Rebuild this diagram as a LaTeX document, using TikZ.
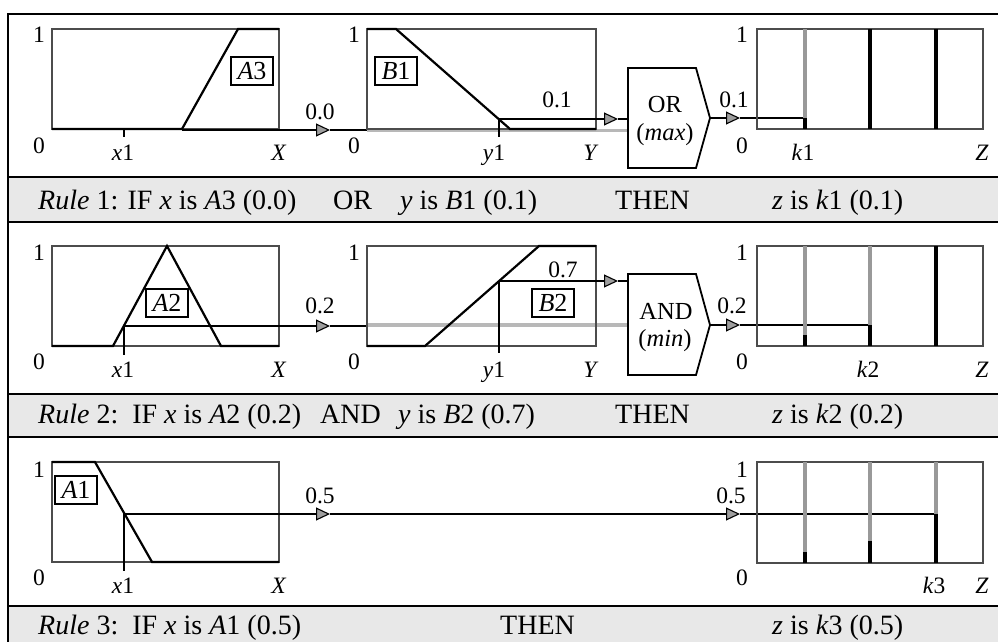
\documentclass[tikz,border=0pt]{standalone}
\usepackage{fontspec}
\setmainfont{Liberation Serif}
\usetikzlibrary{arrows.meta}
\begin{document}
\begin{tikzpicture}[x=1pt,y=-1pt,
  frame/.style={line width=1.6pt},
  bandfill/.style={fill=black!9},
  plotbox/.style={draw=black!70, line width=1.3pt},
  mf/.style={line width=2.2pt, line join=miter},
  sig/.style={line width=1.1pt},
  sigarrow/.style={-{Triangle[length=14pt,width=13pt,fill=black!38]}},
  graysig/.style={draw=black!28, line width=3.6pt},
  graybar/.style={draw=black!40, line width=4.5pt},
  blackbar/.style={draw=black, line width=4.5pt},
  gate/.style={line width=1.8pt, line join=miter},
  lab/.style={font=\fontsize{23.5}{25}\selectfont, anchor=base, inner sep=0pt},
  gatetext/.style={font=\fontsize{24.5}{26}\selectfont, inner sep=0pt},
  mfbox/.style={draw, line width=1.2pt, font=\fontsize{26}{27}\selectfont, minimum width=42pt, minimum height=28pt, inner sep=0pt},
  bandtext/.style={font=\fontsize{28}{30}\selectfont, anchor=base west, inner sep=0pt}
]
\useasboundingbox (0,0) rectangle (998,642);

% ---------- frame and bands ----------
\fill[bandfill] (8,177) rectangle (1010,222);
\fill[bandfill] (8,394) rectangle (1010,437);
\fill[bandfill] (8,606) rectangle (1010,650);
\draw[frame] (1010,14) -- (8,14) -- (8,650);
\foreach \yy in {177,222,394,437,606} \draw[frame] (8,\yy) -- (1010,\yy);

% ================= ROW 1 =================
% plot A
\draw[plotbox] (52,29) rectangle (279,129);
\draw[mf] (52,129) -- (182,129) -- (238,29) -- (279,29);
\node[mfbox] (A3) at (252,71) {\textit{A}3};
\coordinate (r1x1) at (124,129);
\coordinate (r1x1b) at (124,137);
\draw[sig] (r1x1) -- (r1x1b);
\node[lab] (r1a1) at (39,43) {1};
\node[lab] (r1a0) at (39,153) {0};
\node[lab] (r1ax) at (123,160) {\textit{x}1};
\node[lab] (r1aX) at (279,160) {\textit{X}};
% signal A -> gate
\coordinate (r1s0) at (182,130);
\coordinate (r1t0) at (330,130);
\coordinate (r1s1) at (367,130);
\draw[sig,sigarrow] (r1s0) -- (r1t0);
\draw[sig] (r1t0) -- (r1s1);
\node[lab] (r1v0) at (320,119) {0.0};
\coordinate (r1g0) at (367,130.5);
\coordinate (r1g1) at (628,130.5);
\draw[graysig] (r1g0) -- (r1g1);
% plot B
\draw[plotbox] (367,29) rectangle (596,129);
\draw[mf] (367,29) -- (396,29) -- (510,129) -- (596,129);
\node[mfbox] (B1) at (396,71) {\textit{B}1};
\coordinate (r1y1) at (499,119);
\coordinate (r1y1b) at (499,137);
\draw[sig] (r1y1) -- (r1y1b);
\coordinate (r1t1) at (618,119);
\coordinate (r1in) at (628,119);
\draw[sig,sigarrow] (r1y1) -- (r1t1);
\draw[sig] (r1t1) -- (r1in);
\node[lab] (r1b1) at (354,43) {1};
\node[lab] (r1b0) at (354,153) {0};
\node[lab] (r1by) at (494,160) {\textit{y}1};
\node[lab] (r1bY) at (591,160) {\textit{Y}};
\node[lab] (r1v1) at (557,107) {0.1};
% OR gate
\draw[gate] (628,68) -- (696,68) -- (710,118) -- (696,168) -- (628,168) -- cycle;
\coordinate (r1gate) at (710,118);
\node[gatetext] (ortext) at (665,105) {OR};
\node[gatetext] (maxtext) at (665,135) {(\textit{max})};
% output
\coordinate (r1t2) at (740,118);
\coordinate (r1k) at (805,118);
\draw[sig,sigarrow] (r1gate) -- (r1t2);
\draw[sig] (r1t2) -- (r1k);
\node[lab] (r1v2) at (734,107) {0.1};
% plot Z
\draw[plotbox] (757,29) rectangle (983,129);
\draw[graybar] (805,29) -- (805,129);
\draw[blackbar] (805,118) -- (805,129);
\draw[blackbar] (870,29) -- (870,129);
\draw[blackbar] (936,29) -- (936,129);
\node[lab] (r1z1) at (742,43) {1};
\node[lab] (r1z0) at (742,153) {0};
\node[lab] (r1zk) at (803,160) {\textit{k}1};
\node[lab] (r1zZ) at (982,160) {\textit{Z}};
% band text
\node[bandtext] (rule1a) at (38,209) {\textit{Rule} 1: IF \textit{x} is \textit{A}3 (0.0)};
\node[bandtext] (rule1b) at (333,209) {OR};
\node[bandtext] (rule1c) at (400,209) {\textit{y} is \textit{B}1 (0.1)};
\node[bandtext] (rule1d) at (615,209) {THEN};
\node[bandtext] (rule1e) at (772,209) {\textit{z} is \textit{k}1 (0.1)};

% ================= ROW 2 =================
\draw[plotbox] (52,246) rectangle (279,346);
\draw[mf] (52,346) -- (113,346) -- (167,246) -- (221,346) -- (279,346);
\node[mfbox, fill=white] (A2) at (167,303) {\textit{A}2};
\coordinate (r2x1) at (124,326);
\coordinate (r2x1b) at (124,355);
\draw[sig] (r2x1) -- (r2x1b);
\node[lab] (r2a1) at (39,260) {1};
\node[lab] (r2a0) at (39,369) {0};
\node[lab] (r2ax) at (123,377) {\textit{x}1};
\node[lab] (r2aX) at (279,377) {\textit{X}};
\coordinate (r2t0) at (330,326);
\coordinate (r2s1) at (367,326);
\draw[sig,sigarrow] (r2x1) -- (r2t0);
\draw[sig] (r2t0) -- (r2s1);
\node[lab] (r2v0) at (320,313) {0.2};
\coordinate (r2g0) at (367,325);
\coordinate (r2g1) at (628,325);
\draw[graysig] (r2g0) -- (r2g1);
% plot B
\draw[plotbox] (367,246) rectangle (596,346);
\draw[mf] (367,346) -- (425,346) -- (539,246) -- (596,246);
\node[mfbox] (B2) at (553,303) {\textit{B}2};
\coordinate (r2y1) at (499,281);
\coordinate (r2y1b) at (499,353);
\draw[sig] (r2y1) -- (r2y1b);
\coordinate (r2t1) at (618,281);
\coordinate (r2in) at (628,281);
\draw[sig,sigarrow] (r2y1) -- (r2t1);
\draw[sig] (r2t1) -- (r2in);
\node[lab] (r2b1) at (354,260) {1};
\node[lab] (r2b0) at (354,369) {0};
\node[lab] (r2by) at (494,377) {\textit{y}1};
\node[lab] (r2bY) at (591,377) {\textit{Y}};
\node[lab] (r2v1) at (563,277) {0.7};
% AND gate
\draw[gate] (628,274) -- (696,274) -- (710,325) -- (696,375) -- (628,375) -- cycle;
\coordinate (r2gate) at (710,325);
\node[gatetext] (andtext) at (666,311) {AND};
\node[gatetext] (mintext) at (665,341) {(\textit{min})};
\coordinate (r2t2) at (740,325);
\coordinate (r2k) at (870,325);
\draw[sig,sigarrow] (r2gate) -- (r2t2);
\draw[sig] (r2t2) -- (r2k);
\node[lab] (r2v2) at (732,313) {0.2};
% plot Z
\draw[plotbox] (757,246) rectangle (983,346);
\draw[graybar] (805,246) -- (805,346);
\draw[blackbar] (805,335) -- (805,346);
\draw[graybar] (870,246) -- (870,346);
\draw[blackbar] (870,325) -- (870,346);
\draw[blackbar] (936,246) -- (936,346);
\node[lab] (r2z1) at (742,260) {1};
\node[lab] (r2z0) at (742,369) {0};
\node[lab] (r2zk) at (868,377) {\textit{k}2};
\node[lab] (r2zZ) at (982,377) {\textit{Z}};
% band text
\node[bandtext] (rule2a) at (38,423) {\textit{Rule} 2:\, IF \textit{x} is \textit{A}2 (0.2)};
\node[bandtext] (rule2b) at (320,423) {AND};
\node[bandtext] (rule2c) at (398,423) {\textit{y} is \textit{B}2 (0.7)};
\node[bandtext] (rule2d) at (615,423) {THEN};
\node[bandtext] (rule2e) at (772,423) {\textit{z} is \textit{k}2 (0.2)};

% ================= ROW 3 =================
\draw[plotbox] (52,462) rectangle (279,562);
\draw[mf] (52,462) -- (95,462) -- (152,562) -- (279,562);
\node[mfbox] (A1) at (76,490) {\textit{A}1};
\coordinate (r3x1) at (124,514);
\coordinate (r3x1b) at (124,571);
\draw[sig] (r3x1) -- (r3x1b);
\node[lab] (r3a1) at (39,477) {1};
\node[lab] (r3a0) at (39,585) {0};
\node[lab] (r3ax) at (123,593) {\textit{x}1};
\node[lab] (r3aX) at (279,593) {\textit{X}};
\coordinate (r3t0) at (330,514);
\coordinate (r3t2) at (740,514);
\coordinate (r3k) at (936,514);
\draw[sig,sigarrow] (r3x1) -- (r3t0);
\draw[sig,sigarrow] (r3t0) -- (r3t2);
\draw[sig] (r3t2) -- (r3k);
\node[lab] (r3v0) at (320,503) {0.5};
\node[lab] (r3v2) at (731,503) {0.5};
% plot Z
\draw[plotbox] (757,462) rectangle (983,563);
\draw[graybar] (805,462) -- (805,563);
\draw[blackbar] (805,552) -- (805,563);
\draw[graybar] (870,462) -- (870,563);
\draw[blackbar] (870,541) -- (870,563);
\draw[graybar] (936,462) -- (936,563);
\draw[blackbar] (936,514) -- (936,563);
\node[lab] (r3z1) at (742,477) {1};
\node[lab] (r3z0) at (742,585) {0};
\node[lab] (r3zk) at (934,593) {\textit{k}3};
\node[lab] (r3zZ) at (982,593) {\textit{Z}};
% band text
\node[bandtext] (rule3a) at (38,634) {\textit{Rule} 3:\, IF \textit{x} is \textit{A}1 (0.5)};
\node[bandtext] (rule3d) at (500,634) {THEN};
\node[bandtext] (rule3e) at (772,634) {\textit{z} is \textit{k}3 (0.5)};
\end{tikzpicture}
\end{document}
